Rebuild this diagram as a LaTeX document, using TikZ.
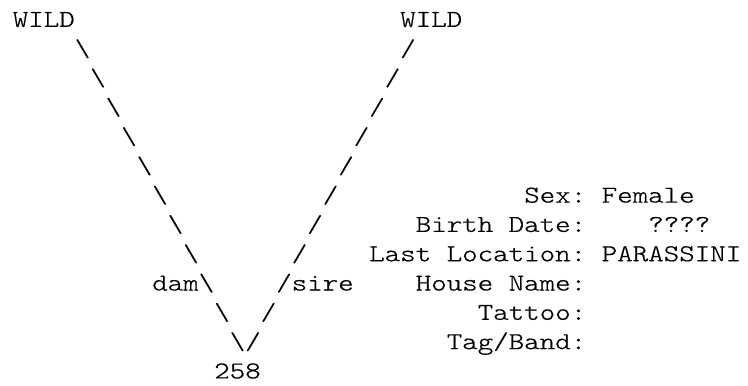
\documentclass[tikz,border=0pt]{standalone}
\usepackage{fontspec}
\newfontfamily\asciifont{lmmonolt10-regular}[Extension=.otf,FakeStretch=1.223,FakeBold=0.6]
\newcommand{\asciicell}[4]{\node[txt] (#1) at ({229.75+15.5*(#2)},{26.8+29.3*(#3)}) {#4};}
\begin{document}
\begin{tikzpicture}[x=0.75pt,y=-0.75pt,
  txt/.style={anchor=base west,inner sep=0pt,outer sep=0pt,font=\asciifont\fontsize{18.1pt}{22pt}\selectfont,text=black}]
\fill[white] (0,0) rectangle (748,385);
\useasboundingbox (0,0) rectangle (748,385);
% parents
\asciicell{wildL}{-14}{0}{WILD}
\asciicell{wildR}{11}{0}{WILD}
% dam branch
\asciicell{d1}{-10}{1}{\textbackslash}
\asciicell{d2}{-9}{2}{\textbackslash}
\asciicell{d3}{-8}{3}{\textbackslash}
\asciicell{d4}{-7}{4}{\textbackslash}
\asciicell{d5}{-6}{5}{\textbackslash}
\asciicell{d6}{-5}{6}{\textbackslash}
\asciicell{d7}{-4}{7}{\textbackslash}
\asciicell{d8}{-3}{8}{\textbackslash}
\asciicell{dam}{-5}{9}{dam\textbackslash}
\asciicell{d10}{-1}{10}{\textbackslash}
\asciicell{d11}{0}{11}{\textbackslash}
% sire branch
\asciicell{s1}{11}{1}{/}
\asciicell{s2}{10}{2}{/}
\asciicell{s3}{9}{3}{/}
\asciicell{s4}{8}{4}{/}
\asciicell{s5}{7}{5}{/}
\asciicell{s6}{6}{6}{/}
\asciicell{s7}{5}{7}{/}
\asciicell{s8}{4}{8}{/}
\asciicell{sire}{3}{9}{/sire}
\asciicell{s10}{2}{10}{/}
\asciicell{s11}{1}{11}{/}
% child
\asciicell{child}{-1}{12}{258}
% details
\asciicell{sexk}{19}{6}{Sex:}
\asciicell{sexv}{24}{6}{Female}
\asciicell{birthk}{12}{7}{Birth Date:}
\asciicell{birthv}{27}{7}{????}
\asciicell{lock}{9}{8}{Last Location:}
\asciicell{locv}{24}{8}{PARASSINI}
\asciicell{housek}{12}{9}{House Name:}
\asciicell{tattook}{16}{10}{Tattoo:}
\asciicell{tagk}{14}{11}{Tag/Band:}
\end{tikzpicture}
\end{document}
